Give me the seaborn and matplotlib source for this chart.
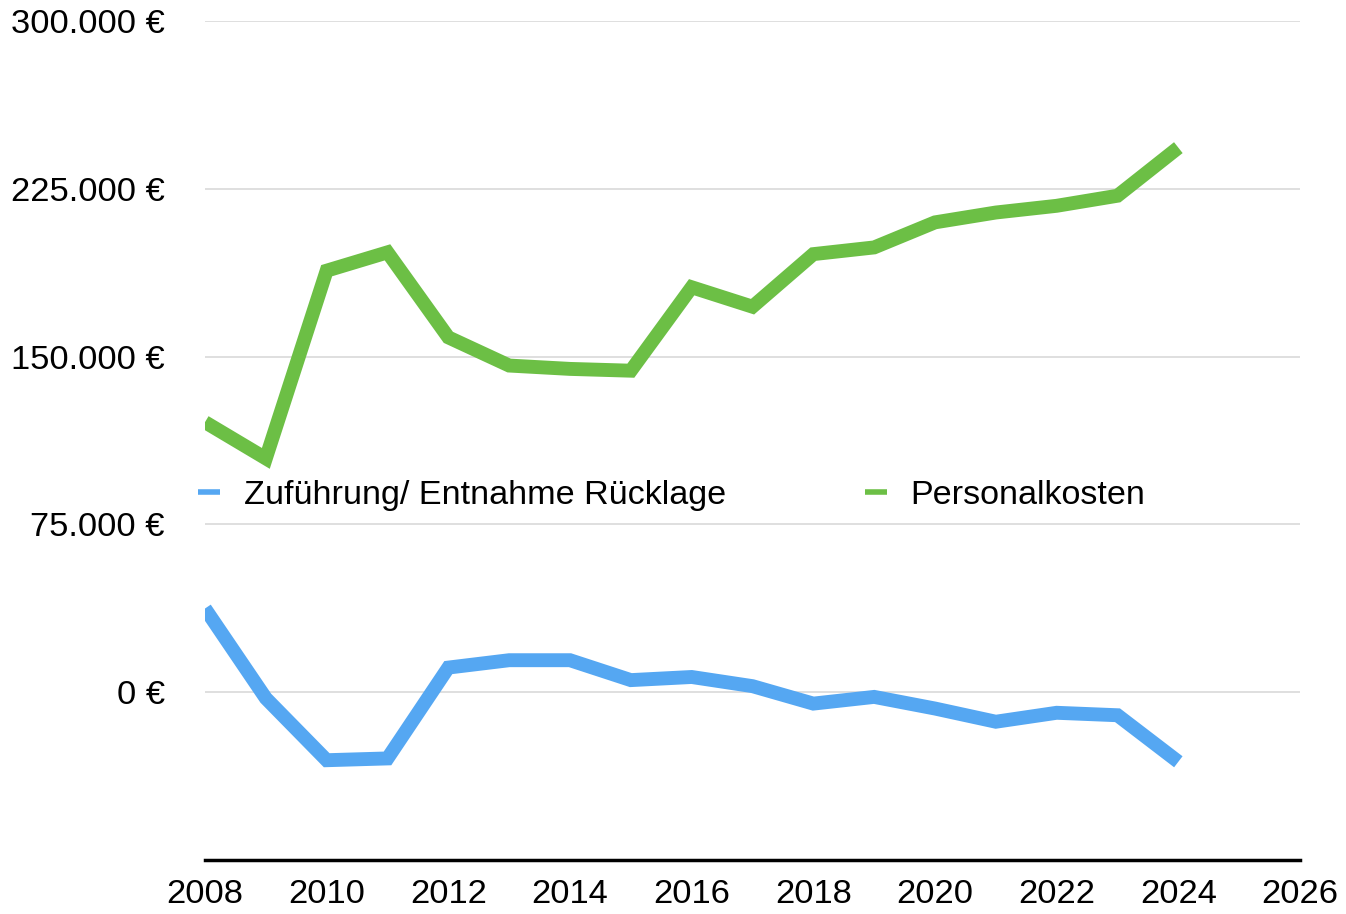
import matplotlib
matplotlib.use("Agg")
import matplotlib.pyplot as plt
import matplotlib.ticker as mticker
import seaborn as sns
import pandas as pd

years = list(range(2008, 2025))
ruecklage = [37400, -2700, -30400, -29600, 11000, 14300, 14300, 5400, 6800, 2700,
             -5100, -2100, -7300, -13200, -9200, -10300, -31100]
personal = [120700, 104500, 188400, 196600, 158600, 146000, 144500, 143700, 181000,
            172300, 195800, 198800, 210000, 214400, 217400, 221900, 243400]
series_names = ["Zuführung/ Entnahme Rücklage", "Personalkosten"]
colors = ["#55A7F2", "#6CBF45"]
y_ticks = [0, 75000, 150000, 225000, 300000]
x_ticks = list(range(2008, 2027, 2))

df = pd.DataFrame({
    "Jahr": years * 2,
    "Wert": ruecklage + personal,
    "Serie": [series_names[0]] * len(years) + [series_names[1]] * len(years),
})

sns.set_theme(style="white")
plt.rcParams["font.family"] = ["Liberation Sans", "DejaVu Sans"]

fig = plt.figure(figsize=(13.46, 9.14), dpi=100)
ax = fig.add_axes([205 / 1346, 1 - 860 / 914, (1300 - 205) / 1346, (860 - 21) / 914])

sns.lineplot(data=df, x="Jahr", y="Wert", hue="Serie", hue_order=series_names,
             palette=colors, linewidth=10, ax=ax, legend=True,
             solid_capstyle="butt", solid_joinstyle="miter")

ax.set_xlim(2008, 2026)
ax.set_ylim(-75000, 300000)
ax.set_yticks(y_ticks)
ax.set_xticks(x_ticks)
ax.yaxis.set_major_formatter(mticker.FuncFormatter(
    lambda v, p: f"{int(v):,} €".replace(",", ".")))
ax.grid(axis="y", color="#DCDCDC", linewidth=1.3)
ax.grid(axis="x", visible=False)
ax.set_axisbelow(True)
for s in ["left", "right", "top"]:
    ax.spines[s].set_visible(False)
ax.spines["bottom"].set_color("black")
ax.spines["bottom"].set_linewidth(2.5)
ax.spines["bottom"].set_zorder(5)
ax.tick_params(axis="y", length=0, pad=29, labelsize=24.8, labelcolor="black")
ax.tick_params(axis="x", length=0, pad=14, labelsize=24.8, labelcolor="black")
ax.set_xlabel("")
ax.set_ylabel("")

leg = ax.legend(loc="center left", bbox_to_anchor=(-0.0064, 0.434), ncol=2,
                frameon=False, fontsize=24.6, handlelength=0.65, handletextpad=0.7,
                columnspacing=4.05, borderpad=0, borderaxespad=0)
for line in leg.get_lines():
    line.set_linewidth(4)
    line.set_solid_capstyle("butt")
for t in leg.get_texts():
    t.set_color("black")

fig.savefig("out.png", dpi=100, facecolor="white")
